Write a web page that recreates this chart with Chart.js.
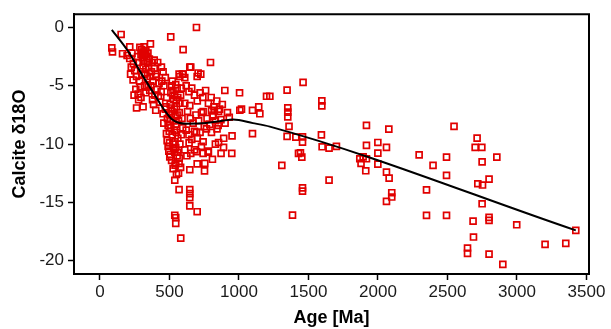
<!DOCTYPE html>
<html>
<head>
<meta charset="utf-8">
<script src="https://cdn.jsdelivr.net/npm/chart.js@4/dist/chart.umd.min.js"></script>
<style>
html,body{margin:0;padding:0;background:#fff;}
canvas{display:block;}
</style>
</head>
<body>
<canvas id="c" width="611" height="329"></canvas>
<script>
// ---- Data (age in Ma, calcite d18O) ----
const xTicks = [0, 500, 1000, 1500, 2000, 2500, 3000, 3500];
const yTicks = [0, -5, -10, -15, -20];

const samplesYoung = [
  [85,-1.75],[90,-2.1],[152,-0.6],[162,-2.25],[214,-1.66],[214,-2.66],[195,-2.4],[230,-2.2],
  [250,-3.7],[263,-4.2],[238,-4.5],[258,-5.3],[274,-5.7],[263,-6.9],[240,-3.1],[225,-3.4],
  [280,-3.0],[270,-2.5],[285,-4.6],[290,-5.1],[295,-6.0],[278,-6.2],[300,-4.0],[245,-5.8],[220,-4.0]
];
const samplesBand = [
  [287,-1.7],[300,-1.9],[310,-2.1],[317,-1.66],[325,-2.3],[330,-2.0],[337,-2.5],[305,-2.6],
  [295,-2.3],[315,-2.9],[320,-2.4],[340,-3.0],[345,-2.2],[363,-1.41],[350,-3.4],[355,-2.7],
  [370,-3.8],[360,-4.2],[330,-3.6],[310,-3.3],[322,-4.0],[340,-4.4],[346,-5.1],[358,-5.4],
  [378,-6.2],[310,-6.8],[330,-5.6],[320,-5.0],[380,-4.6],[390,-3.5],[400,-4.0],[406,-4.2],
  [415,-3.0],[425,-4.8],[442,-3.4],[454,-3.8],[401,-7.1],[430,-6.4],[454,-7.4],[459,-8.2],
  [410,-5.3],[420,-5.9],[440,-5.5],[395,-5.8],[385,-6.6],[445,-4.6],[460,-5.0],[470,-4.3],
  [480,-6.0],[470,-7.0],[390,-2.8],[375,-3.0],[365,-5.0]
];
const samplesCore = [
  [478,-9.1],[483,-9.7],[490,-10.2],[502,-11.1],[526,-12.1],[490,-8.4],[500,-7.5],[505,-6.6],
  [510,-5.6],[515,-5.0],[520,-4.6],[525,-5.4],[530,-6.2],[535,-7.0],[540,-7.6],[545,-8.3],
  [550,-9.0],[540,-9.8],[530,-10.4],[520,-9.2],[510,-8.6],[500,-9.9],[495,-10.6],[505,-10.9],
  [515,-11.4],[525,-10.0],[535,-8.8],[545,-10.3],[555,-11.0],[560,-9.5],[565,-8.0],[570,-7.3],
  [575,-6.5],[580,-5.8],[585,-5.2],[560,-6.0],[555,-5.2],[550,-6.8],[545,-4.9],[535,-5.8],
  [528,-8.0],[518,-7.2],[512,-6.9],[508,-7.9],[498,-8.9],[590,-7.8],[595,-8.6],[585,-9.2],
  [575,-10.0],[570,-11.2],[580,-12.0],[565,-12.5],[550,-12.6],[540,-11.8],[560,-10.7],
  [574,-4.2],[593,-4.0],[569,-4.0],[598,-4.0],[538,-10.7],[545,-11.65],[569,-11.65],
  [485,-7.8],[475,-6.8],[555,-7.5],[548,-6.2]
];
const samplesMid = [
  [646,-3.4],[653,-3.4],[699,-4.2],[725,-4.0],[706,-3.9],[795,-3.0],[694,0],[598,-1.9],[509,-0.8],
  [620,-5.0],[640,-5.5],[660,-5.2],[680,-5.8],[700,-6.3],[720,-5.6],[740,-6.0],[760,-5.4],
  [780,-6.5],[800,-6.0],[820,-6.8],[840,-6.3],[860,-7.0],[880,-6.6],[898,-5.4],[917,-7.3],
  [1004,-5.6],[1018,-7.0],[1006,-7.1],[610,-6.5],[630,-7.2],[650,-7.8],[670,-8.2],[690,-7.5],
  [710,-8.0],[730,-7.3],[750,-8.5],[770,-7.8],[790,-8.3],[810,-7.6],[830,-8.0],[850,-8.4],
  [870,-7.9],[900,-8.2],[930,-7.7],[620,-8.8],[640,-9.2],[660,-9.6],[680,-8.9],[700,-9.5],
  [720,-9.0],[646,-6.7],[742,-7.2],[802,-7.15],[853,-7.2],[694,-9.0],[766,-8.7],[802,-9.0],
  [842,-8.7],[641,-9.9],[646,-12.2],[699,-11.7],[752,-12.3],[754,-11.65],[809,-11.3],[948,-10.8],
  [871,-10.8],[610,-10.5],[625,-11.0],[680,-10.5],[730,-10.2],[780,-10.6],[830,-10.0],[890,-9.5],
  [950,-9.3],[610,-4.3],[823,-7.1],[814,-7.5],[853,-9.86],[889,-10.28],[778,-10.7],[742,-10.8],
  [694,-10.66],[653,-10.8],[742,-9.8],[1097,-7.1],[1142,-6.8],[1150,-7.4],[1097,-9.1],
  [1198,-5.9],[1222,-5.9]
];
const samplesTail = [
  [538,-13.1],[569,-13.9],[646,-13.9],[646,-14.25],[646,-14.6],[646,-15.3],[699,-15.8],
  [538,-16.1],[545,-16.3],[545,-16.8],[581,-18.06]
];
const samplesOld = [
  [1461,-4.71],[1596,-6.29],[1596,-6.72],[1457,-9.38],[1457,-9.83],[1452,-11.12],[1442,-10.75],
  [1457,-13.75],[1457,-14.03],[1593,-9.21],[1598,-10.23],[1648,-10.34],[1701,-10.20],[1648,-13.09],
  [1917,-8.40],[2078,-8.72],[1917,-10.11],[1999,-9.86],[2061,-10.28],[1999,-10.77],[1869,-11.26],
  [1893,-11.09],[1917,-11.26],[1878,-11.65],[1912,-12.29],[1999,-11.72],[2061,-12.40],[2080,-12.92],
  [2099,-14.17],[2099,-14.54],[2061,-14.91],[2296,-10.92],[2396,-11.83],[2493,-11.12],[2493,-12.68],
  [2349,-13.92],[2349,-16.11],[2493,-16.11],[2547,-8.48],[2713,-9.49],[2699,-10.28],[2747,-10.28],
  [2855,-11.12],[2749,-11.52],[2718,-13.40],[2752,-13.51],[2799,-13.00],[2749,-15.12],[2684,-16.60],
  [2799,-16.28],[2799,-16.54],[2998,-16.92],[2687,-17.97],[2644,-18.91],[2644,-19.37],[2799,-19.43],
  [2898,-20.31],[3202,-18.60],[3351,-18.51],[3423,-17.40],[1346,-5.37],[1351,-6.89],[1351,-7.26],
  [1351,-7.66],[1360,-8.48],[1346,-9.34],[1409,-9.40],[1428,-10.80],[1308,-11.83],[1385,-16.09]
];

const trendAge  = [85, 200, 300, 400, 470, 520, 560, 620, 760, 880, 958, 1100, 1222, 3423];
const trendD18O = [-0.2, -2.0, -4.0, -5.9, -7.2, -7.9, -8.15, -8.25, -8.2, -8.0, -7.9, -8.2, -8.5, -17.4];

// ---- Build ----
const allSamples = [].concat(samplesYoung, samplesBand, samplesCore, samplesMid, samplesTail, samplesOld)
  .map(p => ({x: p[0], y: p[1]}));
const trend = trendAge.map((a, i) => ({x: a, y: trendD18O[i]}));

const FONT = "'Liberation Sans', Arial, Helvetica, sans-serif";

const framePlugin = {
  id: 'boxFrame',
  afterDraw(chart) {
    const ctx = chart.ctx;
    const a = chart.chartArea;
    ctx.save();
    ctx.strokeStyle = '#000';
    ctx.lineWidth = 2;
    ctx.beginPath();
    ctx.rect(a.left, a.top, a.right - a.left, a.bottom - a.top);
    ctx.stroke();
    ctx.restore();
  }
};

new Chart(document.getElementById('c'), {
  type: 'scatter',
  data: {
    datasets: [
      {
        data: trend,
        showLine: true,
        borderColor: '#000',
        borderWidth: 2,
        pointRadius: 0,
        cubicInterpolationMode: 'monotone',
        fill: false,
        order: 0
      },
      {
        data: allSamples,
        pointStyle: 'rect',
        pointRadius: 4.2,
        borderWidth: 1.7,
        borderColor: 'rgb(225,0,0)',
        backgroundColor: 'rgba(0,0,0,0)',
        order: 1
      }
    ]
  },
  options: {
    responsive: false,
    animation: false,
    layout: {padding: {left: 0, right: 22, top: 14, bottom: 0}},
    plugins: {legend: {display: false}, tooltip: {enabled: false}},
    scales: {
      x: {
        type: 'linear',
        min: -187,
        max: 3518,
        afterBuildTicks: s => { s.ticks = xTicks.map(v => ({value: v})); },
        afterFit: s => { s.height = 55; },
        grid: {display: true, drawOnChartArea: false, drawTicks: true, tickLength: 6, tickColor: '#000', tickWidth: 1.5},
        border: {display: true, color: '#000', width: 2},
        ticks: {font: {family: FONT, size: 17}, color: '#1a1a1a', padding: 2, maxRotation: 0, autoSkip: false,
                callback: v => String(v)},
        title: {display: true, text: 'Age [Ma]', font: {family: FONT, size: 18, weight: 'bold'}, color: '#000', padding: {top: 0, bottom: 0}}
      },
      y: {
        type: 'linear',
        min: -21.14,
        max: 1.14,
        afterBuildTicks: s => { s.ticks = yTicks.map(v => ({value: v})); },
        afterFit: s => { s.width = 74; },
        grid: {display: true, drawOnChartArea: false, drawTicks: true, tickLength: 6, tickColor: '#000', tickWidth: 1.5},
        border: {display: true, color: '#000', width: 2},
        ticks: {font: {family: FONT, size: 17}, color: '#1a1a1a', padding: 4, autoSkip: false,
                callback: v => String(v)},
        title: {display: true, text: 'Calcite δ18O', font: {family: FONT, size: 18, weight: 'bold'}, color: '#000', padding: {top: 9, bottom: 0}}
      }
    }
  },
  plugins: [framePlugin]
});
</script>
</body>
</html>
